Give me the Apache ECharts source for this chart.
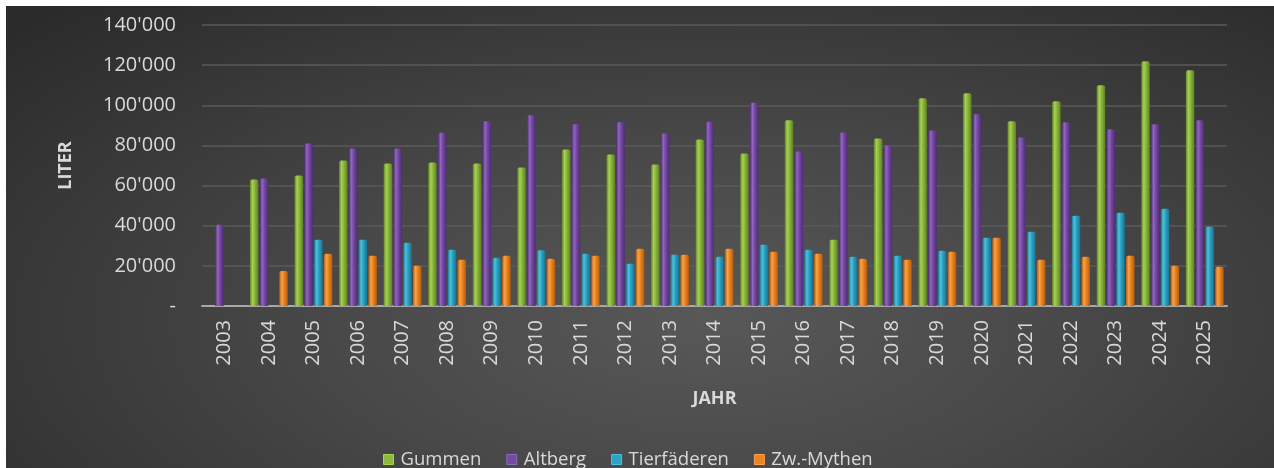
<!DOCTYPE html>
<html>
<head>
<meta charset="utf-8">
<script src="https://cdn.jsdelivr.net/npm/echarts@6/dist/echarts.min.js"></script>
<style>
html,body{margin:0;padding:0;background:#fff;width:1274px;height:468px;overflow:hidden;}
#chart{position:absolute;left:6px;top:6px;width:1268px;height:462px;
background:radial-gradient(ellipse 75% 95% at 55% 68%, #585858 0%, #484848 40%, #2a2a2a 100%);}
</style>
</head>
<body>
<div id="chart"></div>
<script>
const years = ['2003','2004','2005','2006','2007','2008','2009','2010','2011','2012','2013','2014','2015','2016','2017','2018','2019','2020','2021','2022','2023','2024','2025'];
const gummen = [null,63000,65000,72500,71000,71500,71000,69000,78000,75500,70500,83000,76000,92500,33000,83500,103500,106000,92000,102000,110000,122000,117500];
const altberg = [40500,63500,81000,78500,78500,86300,92000,95000,90500,91500,86000,91800,101300,77000,86500,80000,87500,95500,84000,91500,88000,90500,92500];
const tierfaederen = [null,null,33000,33000,31500,28000,24000,27800,26000,21000,25500,24500,30500,28000,24500,25000,27500,34000,37000,45000,46500,48500,39500];
const zwMythen = [null,17500,26000,25000,20000,23000,25000,23500,25000,28500,25500,28500,27000,26000,23500,23000,27000,34000,23000,24500,25000,20000,19500];
const seriesNames = ['Gummen','Altberg','Tierfäderen','Zw.-Mythen'];
const yTicks = [0,20000,40000,60000,80000,100000,120000,140000];

const baseColors = ['#8cb83c','#7649a3','#2ba3c4','#ec841f'];
const darkColors = ['#5e8124','#4f2c75','#1a7490','#b35c0e'];
const lightColors = ['#a6d152','#9068bd','#4fc1de','#f9a24a'];

function fmt(v){
  if (v === 0) return '-';
  return String(v).replace(/\B(?=(\d{3})+(?!\d))/g, "'");
}
function grad(i){
  return {type:'linear',x:0,y:0,x2:1,y2:0,colorStops:[
    {offset:0,color:darkColors[i]},
    {offset:0.3,color:lightColors[i]},
    {offset:0.55,color:baseColors[i]},
    {offset:1,color:darkColors[i]}]};
}
const dataSets = [gummen, altberg, tierfaederen, zwMythen];
const font = '"Open Sans", "Noto Sans", sans-serif';

const chart = echarts.init(document.getElementById('chart'), null, {renderer:'canvas'});
chart.setOption({
  animation:false,
  backgroundColor:'transparent',
  textStyle:{fontFamily:font},
  grid:{left:196,right:47,top:19,bottom:162,containLabel:false},
  legend:{
    data:seriesNames.map((n,i)=>({name:n,itemStyle:{color:baseColors[i],borderColor:lightColors[i],borderWidth:1}})),
    left:372, top:439, icon:'rect', itemWidth:10, itemHeight:10, itemGap:25,
    textStyle:{color:'#d9d9d9',fontSize:18.5,fontFamily:font,padding:[0,0,0,2]}
  },
  xAxis:{
    type:'category', data:years,
    name:'JAHR', nameLocation:'middle', nameGap:84,
    nameTextStyle:{color:'#d9d9d9',fontSize:18,fontWeight:'bold',fontFamily:font},
    axisLine:{lineStyle:{color:'#a8a8a8',width:2}},
    axisTick:{show:false},
    axisLabel:{rotate:90,color:'#d9d9d9',fontSize:20,margin:14,fontFamily:font,interval:0}
  },
  yAxis:{
    type:'value', min:yTicks[0], max:yTicks[yTicks.length-1], interval:yTicks[1]-yTicks[0],
    name:'LITER', nameLocation:'middle', nameGap:127, nameRotate:90,
    nameTextStyle:{color:'#d9d9d9',fontSize:18,fontWeight:'bold',fontFamily:font},
    axisLine:{show:false}, axisTick:{show:false},
    axisLabel:{color:'#d9d9d9',fontSize:20,margin:26,fontFamily:font,formatter:fmt},
    splitLine:{lineStyle:{color:'#5a5a5a',width:1.5}}
  },
  series:dataSets.map((d,i)=>({
    name:seriesNames[i], type:'bar', data:d,
    barCategoryGap:'15%', barGap:'15%',
    itemStyle:{color:grad(i), borderRadius:[2,2,0,0]}
  }))
});
</script>
</body>
</html>
